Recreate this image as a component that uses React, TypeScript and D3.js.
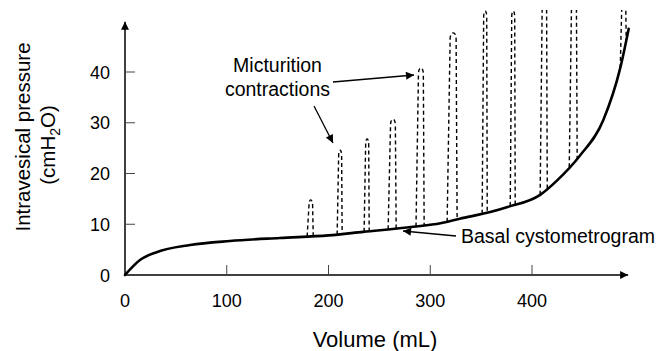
import React from "react";
import * as d3 from "d3";

// Basal cystometrogram (volume mL, pressure cmH2O)
const baseVol = [0, 15, 31, 64, 103, 152, 200, 234, 283, 310, 329, 359, 376, 408, 425, 447, 470, 487, 495];
const basePres = [0, 3.0, 4.5, 5.9, 6.7, 7.3, 7.8, 8.5, 9.5, 10.2, 11.1, 12.4, 13.4, 15.8, 18.7, 23.5, 30.5, 41, 48.5];

// Micturition contractions: start volume, end volume, peak pressure
const conStart = [179, 208.5, 235, 258.6, 286, 316.6, 351, 378.6, 408, 436.6, 486.7];
const conEnd = [185, 213.4, 240, 266.5, 294, 326.4, 356, 383.5, 415, 444.4, 492.6];
const conPeak = [14.8, 24.6, 26.8, 30.7, 40.8, 47.7, 52, 52, 56, 56, 56];

const xTicks = [0, 100, 200, 300, 400];
const yTicks = [0, 10, 20, 30, 40];

const FONT = "'Liberation Sans', Arial, Helvetica, sans-serif";

export default function App() {
  const W = 656, H = 351;
  const x = d3.scaleLinear().domain([0, 400]).range([125, 532]);
  const y = d3.scaleLinear().domain([0, 40]).range([275, 72]);

  const basePts: [number, number][] = baseVol.map((v, i) => [v, basePres[i]]);
  const baseLine = d3
    .line<[number, number]>()
    .x((d) => x(d[0]))
    .y((d) => y(d[1]))
    .curve(d3.curveMonotoneX)(basePts) as string;

  const baseAt = (v: number) => {
    for (let i = 0; i < baseVol.length - 1; i++) {
      if (v >= baseVol[i] && v <= baseVol[i + 1]) {
        const t = (v - baseVol[i]) / (baseVol[i + 1] - baseVol[i]);
        return basePres[i] + t * (basePres[i + 1] - basePres[i]);
      }
    }
    return basePres[basePres.length - 1];
  };

  const contractionPaths = conStart.map((v0, i) => {
    const v1 = conEnd[i];
    const xl = x(v0), xr = x(v1);
    const w = xr - xl;
    const yl = y(baseAt(v0)), yr = y(baseAt(v1));
    const yp = y(conPeak[i]);
    const xlt = xl + 0.3 * w, xrt = xr - 0.1 * w;
    const p = d3.path();
    p.moveTo(xl, yl);
    p.lineTo(xlt, yp + 6);
    p.bezierCurveTo(xlt, yp - 2, xrt, yp - 2, xrt, yp + 6);
    p.lineTo(xr, yr);
    return p.toString();
  });

  const x0 = x(0), y0 = y(0);
  const yTop = y(49.9);
  const xEnd = x(494.5);

  return (
    <svg width={W} height={H} style={{ position: "absolute", left: 0, top: 0, background: "#fff" }} fontFamily={FONT}>
      <defs>
        <marker id="ah" viewBox="0 0 10 10" refX="10" refY="5" markerWidth="10" markerHeight="8" markerUnits="userSpaceOnUse" orient="auto">
          <path d="M0,0 L10,5 L0,10 Z" fill="#000" />
        </marker>
        <marker id="ax" viewBox="0 0 10 10" refX="10" refY="5" markerWidth="9" markerHeight="8" markerUnits="userSpaceOnUse" orient="auto">
          <path d="M0,0 L10,5 L0,10 Z" fill="#000" />
        </marker>
        <clipPath id="clipTop">
          <rect x={0} y={10} width={W} height={H} />
        </clipPath>
      </defs>

      {/* axes */}
      <line x1={x0} y1={y0} x2={x0} y2={yTop} stroke="#000" strokeWidth={1.5} markerEnd="url(#ax)" />
      <line x1={x0} y1={y0} x2={xEnd} y2={y0} stroke="#000" strokeWidth={1.5} markerEnd="url(#ax)" />

      {yTicks.map((t) => (
        <g key={"y" + t}>
          {t > 0 && <line x1={x0} x2={x0 + 10} y1={y(t)} y2={y(t)} stroke="#444" strokeWidth={1} />}
          <text x={x0 - 15} y={y(t) + 6.5} textAnchor="end" fontSize={18} fill="#000">
            {t}
          </text>
        </g>
      ))}
      {xTicks.map((t) => (
        <g key={"x" + t}>
          {t > 0 && <line x1={x(t)} x2={x(t)} y1={y0} y2={y0 - 10} stroke="#444" strokeWidth={1} />}
          <text x={x(t)} y={307} textAnchor="middle" fontSize={18} fill="#000">
            {t}
          </text>
        </g>
      ))}

      {/* axis titles */}
      <text x={375} y={347} textAnchor="middle" fontSize={22} fill="#000">
        Volume (mL)
      </text>
      <text transform="translate(30,137) rotate(-90)" textAnchor="middle" fontSize={20.5} fill="#000">
        Intravesical pressure
      </text>
      <text transform="translate(55,145) rotate(-90)" textAnchor="middle" fontSize={20.5} fill="#000">
        (cmH<tspan fontSize={14} dy={5}>2</tspan>
        <tspan dy={-5}>O)</tspan>
      </text>

      {/* contractions */}
      <g clipPath="url(#clipTop)">
        {contractionPaths.map((d, i) => (
          <path key={i} d={d} fill="none" stroke="#000" strokeWidth={1.4} strokeDasharray="4 3" />
        ))}
      </g>

      {/* basal curve */}
      <path d={baseLine} fill="none" stroke="#000" strokeWidth={2.6} strokeLinecap="round" />

      {/* annotations */}
      <text x={277.5} y={72} textAnchor="middle" fontSize={19.5} fill="#000">
        Micturition
      </text>
      <text x={277.5} y={96} textAnchor="middle" fontSize={19.5} fill="#000">
        contractions
      </text>
      <line x1={333} y1={82} x2={414} y2={75} stroke="#000" strokeWidth={1.3} markerEnd="url(#ah)" />
      <line x1={314} y1={106} x2={333} y2={143} stroke="#000" strokeWidth={1.3} markerEnd="url(#ah)" />

      <text x={461} y={243} fontSize={19.5} fill="#000">
        Basal cystometrogram
      </text>
      <line x1={456} y1={236} x2={403} y2={231} stroke="#000" strokeWidth={1.3} markerEnd="url(#ah)" />
    </svg>
  );
}
